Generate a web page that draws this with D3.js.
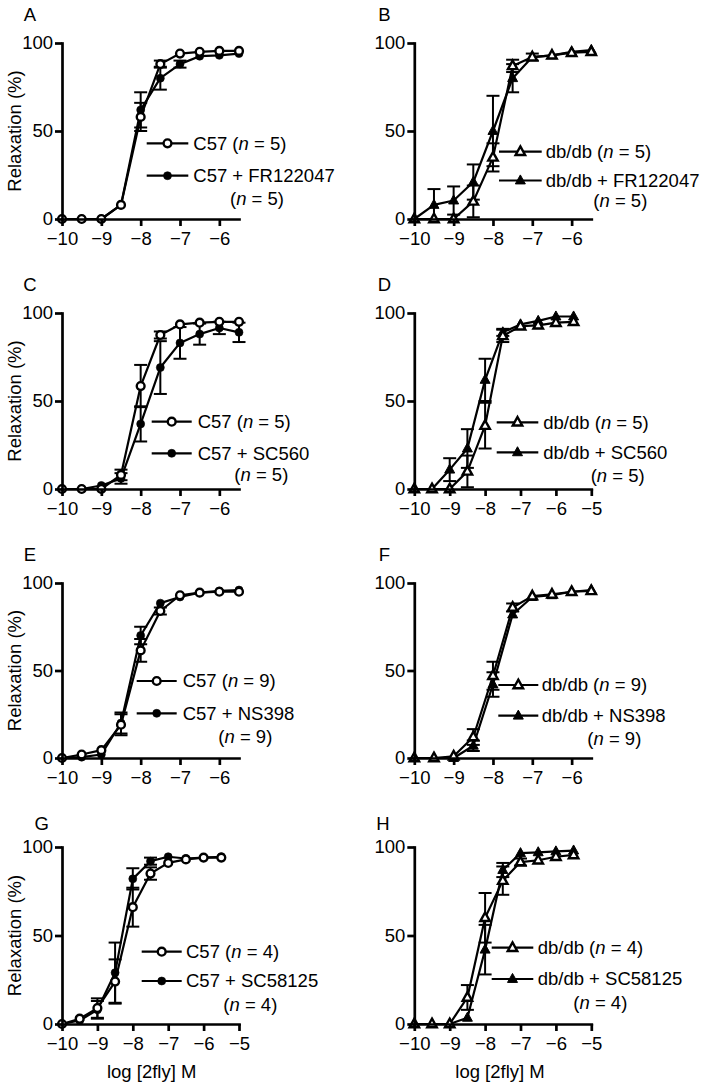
<!DOCTYPE html>
<html><head><meta charset="utf-8">
<script src="https://cdn.jsdelivr.net/npm/d3@7"></script>
<style>
body{margin:0;background:#fff;}
svg text{font-family:"Liberation Sans",Arial,sans-serif;fill:#000;}
</style></head>
<body>
<svg id="chart" width="709" height="1087"></svg>
<script>
const doses = [-10, -9.5, -9, -8.5, -8, -7.5, -7, -6.5, -6, -5.5];
const ticks55 = [-10, -9, -8, -7, -6];
const ticks5 = [-10, -9, -8, -7, -6, -5];
const yTicks = [0, 50, 100];

const A_ctrl = [0, 0, 0, 8, 58, 88, 94, 95, 95.5, 95.5];
const A_ctrlSem = [0, 0, 0, 1, 8, 2, 1, 1, 1, 1];
const A_drug = [0, 0, 0, 8, 62, 80, 88, 92.5, 93, 94];
const A_drugSem = [0, 0, 0, 1, 10, 6.5, 2, 1, 1, 1];

const B_ctrl = [0, 0, 0, 10, 35, 87, 92, 93, 94.5, 95];
const B_ctrlSem = [0, 0, 0, 9, 8, 3.5, 1.5, 1, 1, 1];
const B_drug = [0, 8, 10.5, 21, 50, 80, 92, 93, 95, 96];
const B_drugSem = [0, 9, 8, 10, 20, 8, 2, 1, 1, 1];

const C_ctrl = [0, 0, 0, 8, 58.5, 87.5, 93.5, 94.5, 95, 95];
const C_ctrlSem = [0, 0, 0, 3, 12, 2, 1, 1, 1, 1];
const C_drug = [0, 0, 2, 6, 37, 69, 83, 88, 91.5, 89];
const C_drugSem = [0, 0, 1, 3, 10, 15, 9, 6, 3.5, 5.5];

const D_ctrl = [0, 0, 0, 10, 36, 87, 92.5, 93, 94.5, 95];
const D_ctrlSem = [0, 0, 0, 9, 13, 3.5, 1, 1, 1, 1];
const D_drug = [0, 0, 11, 23, 62, 89, 93.5, 95.5, 98, 98];
const D_drugSem = [0, 0, 6.5, 11, 12, 2, 1, 1, 1, 1];

const E_ctrl = [0, 2, 4.5, 19, 61.5, 84, 93, 94.5, 95, 95];
const E_ctrlSem = [0, 1, 1.5, 6, 6.5, 2, 1, 1, 1, 1];
const E_drug = [0, 0.5, 2, 20, 70, 88.5, 92, 94.5, 95.5, 96];
const E_drugSem = [0, 0.5, 1, 6, 5, 1.5, 1, 1, 1, 1];

const F_ctrl = [0, 0, 1, 12, 47, 86, 92.5, 93.5, 95, 95.5];
const F_ctrlSem = [0, 0, 1, 4.5, 8, 2.3, 1, 1, 1, 1];
const F_drug = [0, 0, 0, 7, 42, 82, 92, 93, 95, 96];
const F_drugSem = [0, 0, 0, 3, 7, 1.5, 1, 1, 1, 1];

const G_ctrl = [0, 3, 9, 24, 66, 85, 91, 93, 94, 94];
const G_ctrlSem = [0, 1, 5.5, 12.5, 11, 3.5, 1.5, 1, 1, 1];
const G_drug = [0, 2, 8, 29, 82, 92, 94.5, 93.5, 94, 94.5];
const G_drugSem = [0, 1, 5, 17, 6, 2, 1, 1, 1, 1];

const H_ctrl = [0, 0, 0, 15, 60, 81, 91.5, 92.5, 94.5, 95.5];
const H_ctrlSem = [0, 0, 0, 7, 14, 8, 2, 1, 1, 1];
const H_drug = [0, 0, 0, 3.5, 42, 87, 96.5, 97, 97.5, 98];
const H_drugSem = [0, 0, 0, 1, 14, 4, 1, 1, 1, 1];

const panelLetters = ["A", "B", "C", "D", "E", "F", "G", "H"];
const ctrlNames = ["C57", "db/db", "C57", "db/db", "C57", "db/db", "C57", "db/db"];
const drugNames = ["C57 + FR122047", "db/db + FR122047", "C57 + SC560", "db/db + SC560",
                   "C57 + NS398", "db/db + NS398", "C57 + SC58125", "db/db + SC58125"];
const nValues = ["5", "5", "5", "5", "9", "9", "4", "4"];
const yTitle = "Relaxation (%)";
const xTitle = "log [2fly] M";

const ctrlData = [A_ctrl, B_ctrl, C_ctrl, D_ctrl, E_ctrl, F_ctrl, G_ctrl, H_ctrl];
const ctrlSem = [A_ctrlSem, B_ctrlSem, C_ctrlSem, D_ctrlSem, E_ctrlSem, F_ctrlSem, G_ctrlSem, H_ctrlSem];
const drugData = [A_drug, B_drug, C_drug, D_drug, E_drug, F_drug, G_drug, H_drug];
const drugSem = [A_drugSem, B_drugSem, C_drugSem, D_drugSem, E_drugSem, F_drugSem, G_drugSem, H_drugSem];

// layout (pixels)
const rowY = [[43, 219], [313, 489], [583, 758], [847, 1024]];
const colX = [62, 414.3];
const axisW = 177;
const xMax = [-5.5, -5.5, -5.5, -5, -5.5, -5.5, -5, -5];
const legendPos = [
  {x1: 146.7, x2: 188.3, tx: 193.3, y1: 143.3, y2: 175.7, nx: 230, ny: 199},
  {x1: 144, x2: 186.7, tx: 190.7, y1: 151.7, y2: 180.5, nx: 238.3, ny: 201},
  {x1: 151.7, x2: 191.7, tx: 197.7, y1: 151.7, y2: 183.3, nx: 234.3, ny: 204.3},
  {x1: 141.7, x2: 183.3, tx: 188.3, y1: 152.3, y2: 182.3, nx: 235.7, ny: 205.7},
  {x1: 136.7, x2: 176.7, tx: 182.7, y1: 141, y2: 173.3, nx: 218.3, ny: 196.7},
  {x1: 143.3, x2: 183.3, tx: 186.7, y1: 145, y2: 175.7, nx: 232.3, ny: 199},
  {x1: 141.7, x2: 181.7, tx: 186, y1: 141.7, y2: 171, nx: 223.3, ny: 194.3},
  {x1: 136.7, x2: 178.3, tx: 182.7, y1: 137.7, y2: 169, nx: 218.3, ny: 192.3}
];
const rowOffset = [0, 270, 540, 810];

const FS = 18.5;
const AXW = 2.7;
const LW = 2.2;
const svg = d3.select("#chart");

function drawMarker(g, x, y, isTri, filled) {
  if (isTri) {
    const s = filled ? 10 : 9.5;
    const h = s * 0.9;
    g.append("path")
      .attr("d", `M${x},${y - h * 0.62}L${x + s / 2},${y + h * 0.38}L${x - s / 2},${y + h * 0.38}Z`)
      .attr("fill", filled ? "#000" : "#fff")
      .attr("stroke", "#000").attr("stroke-width", filled ? 1 : 2.4)
      .attr("stroke-linejoin", "miter");
  } else {
    g.append("circle").attr("cx", x).attr("cy", y)
      .attr("r", filled ? 4 : 3.9)
      .attr("fill", filled ? "#000" : "#fff")
      .attr("stroke", "#000").attr("stroke-width", filled ? 0.6 : 2.4);
  }
}

for (let p = 0; p < 8; p++) {
  const col = p % 2, row = Math.floor(p / 2);
  const ax = colX[col];
  const [yTop, yBot] = rowY[row];
  const isTri = col === 1;
  const x = d3.scaleLinear().domain([-10, xMax[p]]).range([ax, ax + axisW]);
  const y = d3.scaleLinear().domain([0, 100]).range([yBot, yTop]);
  const g = svg.append("g");

  // panel letter
  g.append("text").attr("x", col === 0 ? (row === 3 ? 41.7 : 30) : (row === 3 ? 383 : 384.5))
    .attr("y", rowOffset[row] + (row === 3 ? 14 : 15)).attr("dy", "0.35em")
    .attr("text-anchor", "middle").attr("font-size", 18.5).text(panelLetters[p]);

  if (col === 0) {
    g.append("text").attr("transform", `translate(15,${(yTop + yBot) / 2})rotate(-90)`)
      .attr("dy", "0.35em").attr("text-anchor", "middle").attr("font-size", FS).text(yTitle);
  }
  if (row === 3) {
    g.append("text").attr("x", col === 0 ? 151.7 : 500).attr("y", 1077.5)
      .attr("text-anchor", "middle").attr("font-size", FS).text(xTitle);
  }

  const series = [
    {vals: drugData[p], sem: drugSem[p], filled: true},
    {vals: ctrlData[p], sem: ctrlSem[p], filled: false}
  ];
  const line = d3.line().x(d => x(d[0])).y(d => y(d[1]));
  series.forEach(s => {
    const pts = doses.map((d, i) => [d, s.vals[i], s.sem[i]]);
    g.append("path").datum(pts).attr("d", line).attr("fill", "none")
      .attr("stroke", "#000").attr("stroke-width", LW).attr("stroke-linejoin", "round");
    pts.forEach(pt => {
      if (pt[2] > 1.5) {
        const cx = x(pt[0]), yh = y(pt[1] + pt[2]), yl = y(Math.max(0, pt[1] - pt[2]));
        g.append("line").attr("x1", cx).attr("x2", cx).attr("y1", yh).attr("y2", yl)
          .attr("stroke", "#000").attr("stroke-width", 2);
        [yh, yl].forEach(yy => g.append("line").attr("x1", cx - 6.5).attr("x2", cx + 6.5)
          .attr("y1", yy).attr("y2", yy).attr("stroke", "#000").attr("stroke-width", 2));
      }
    });
  });
  series.forEach(s => {
    doses.forEach((d, i) => drawMarker(g, x(d), y(s.vals[i]), isTri, s.filled));
  });

  // axes drawn over markers
  const xa = g.append("g").attr("transform", `translate(0,${yBot})`)
    .call(d3.axisBottom(x).tickValues(xMax[p] === -5 ? ticks5 : ticks55)
      .tickSizeInner(7).tickSizeOuter(0).tickPadding(6)
      .tickFormat(d => d3.format("d")(d).replace("-", "\u2212")));
  const ya = g.append("g").attr("transform", `translate(${ax},0)`)
    .call(d3.axisLeft(y).tickValues(yTicks).tickSizeInner(7).tickSizeOuter(0).tickPadding(2));
  [xa, ya].forEach(a => {
    a.selectAll("path,line").attr("stroke", "#000").attr("stroke-width", AXW);
    a.select(".domain").attr("stroke-linecap", "square");
    a.selectAll("text").attr("font-size", FS).attr("font-family", '"Liberation Sans",Arial,sans-serif').attr("fill", "#000");
  });

  // legend
  const L = legendPos[p];
  const ox = col * 355, oy = rowOffset[row];
  [[L.y1, false], [L.y2, true]].forEach(([ly, filled]) => {
    g.append("line").attr("x1", ox + L.x1).attr("x2", ox + L.x2)
      .attr("y1", oy + ly).attr("y2", oy + ly).attr("stroke", "#000").attr("stroke-width", LW);
    drawMarker(g, ox + (L.x1 + L.x2) / 2, oy + ly, isTri, filled);
  });
  const t1 = g.append("text").attr("x", ox + L.tx).attr("y", oy + L.y1).attr("dy", "0.35em").attr("font-size", FS);
  t1.append("tspan").text(ctrlNames[p] + " (");
  t1.append("tspan").attr("font-style", "italic").text("n");
  t1.append("tspan").text(" = " + nValues[p] + ")");
  g.append("text").attr("x", ox + L.tx).attr("y", oy + L.y2).attr("dy", "0.35em").attr("font-size", FS).text(drugNames[p]);
  const t3 = g.append("text").attr("x", ox + L.nx).attr("y", oy + L.ny).attr("dy", "0.35em").attr("font-size", FS);
  t3.append("tspan").text("(");
  t3.append("tspan").attr("font-style", "italic").text("n");
  t3.append("tspan").text(" = " + nValues[p] + ")");
}
</script>
</body></html>
